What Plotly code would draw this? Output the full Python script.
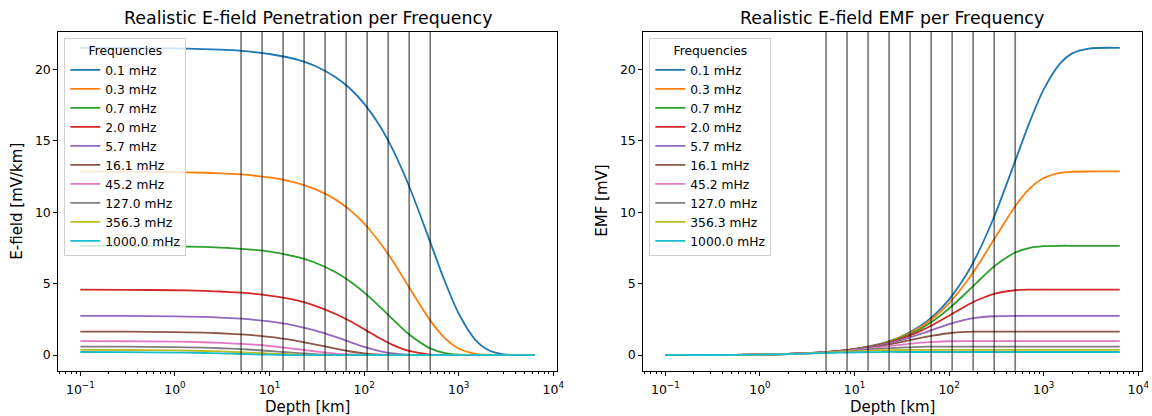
import plotly.graph_objects as go

# ---------------- data ----------------
depth_km = [0.1, 0.3, 1, 2, 3, 5, 7, 10, 15, 20, 30, 50, 70, 100, 150, 200,
            300, 500, 700, 1000, 1500, 2000, 3000, 6371]

freq_labels = ["0.1 mHz", "0.3 mHz", "0.7 mHz", "2.0 mHz", "5.7 mHz",
               "16.1 mHz", "45.2 mHz", "127.0 mHz", "356.3 mHz", "1000.0 mHz"]

# skin depths marked by the vertical lines [km]
skin_depth_km = [5.0, 8.34, 13.9, 23.2, 38.7, 64.6, 107.7, 179.6, 299.6, 500.0]

# E-field penetration [mV/km]
e_0p1 = [21.50, 21.49, 21.46, 21.41, 21.37, 21.29, 21.20, 21.07, 20.86, 20.66, 20.25, 19.45,
         18.69, 17.60, 15.93, 14.41, 11.80, 7.91, 5.30, 2.91, 1.07, 0.39, 0.05, 0.00]
e_0p3 = [12.85, 12.84, 12.81, 12.76, 12.72, 12.64, 12.55, 12.43, 12.22, 12.02, 11.63, 10.88,
         10.18, 9.21, 7.79, 6.60, 4.73, 2.43, 1.24, 0.46, 0.09, 0.02, 0.00, 0.00]
e_0p7 = [7.65, 7.64, 7.61, 7.57, 7.52, 7.44, 7.36, 7.24, 7.04, 6.85, 6.48, 5.80,
         5.19, 4.39, 3.32, 2.52, 1.44, 0.47, 0.16, 0.03, 0.00, 0.00, 0.00, 0.00]
e_2p0 = [4.58, 4.57, 4.54, 4.50, 4.45, 4.37, 4.29, 4.17, 3.99, 3.81, 3.47, 2.88,
         2.40, 1.82, 1.14, 0.72, 0.29, 0.04, 0.00, 0.00, 0.00, 0.00, 0.00, 0.00]
e_5p7 = [2.75, 2.74, 2.71, 2.67, 2.63, 2.55, 2.47, 2.36, 2.18, 2.01, 1.73, 1.27,
         0.93, 0.58, 0.27, 0.12, 0.03, 0.00, 0.00, 0.00, 0.00, 0.00, 0.00, 0.00]
e_16p1 = [1.65, 1.64, 1.61, 1.57, 1.53, 1.45, 1.38, 1.27, 1.12, 0.98, 0.76, 0.45,
          0.27, 0.12, 0.03, 0.01, 0.00, 0.00, 0.00, 0.00, 0.00, 0.00, 0.00, 0.00]
e_45p2 = [0.98, 0.97, 0.94, 0.90, 0.86, 0.79, 0.73, 0.64, 0.51, 0.41, 0.27, 0.11,
          0.05, 0.01, 0.00, 0.00, 0.00, 0.00, 0.00, 0.00, 0.00, 0.00, 0.00, 0.00]
e_127 = [0.60, 0.59, 0.56, 0.52, 0.48, 0.42, 0.36, 0.29, 0.20, 0.14, 0.07, 0.02,
         0.00, 0.00, 0.00, 0.00, 0.00, 0.00, 0.00, 0.00, 0.00, 0.00, 0.00, 0.00]
e_356 = [0.37, 0.36, 0.33, 0.29, 0.26, 0.20, 0.16, 0.11, 0.06, 0.03, 0.01, 0.00,
         0.00, 0.00, 0.00, 0.00, 0.00, 0.00, 0.00, 0.00, 0.00, 0.00, 0.00, 0.00]
e_1000 = [0.22, 0.21, 0.18, 0.15, 0.12, 0.08, 0.05, 0.03, 0.01, 0.00, 0.00, 0.00,
          0.00, 0.00, 0.00, 0.00, 0.00, 0.00, 0.00, 0.00, 0.00, 0.00, 0.00, 0.00]

# EMF [mV]
emf_0p1 = [0.00, 0.01, 0.04, 0.09, 0.13, 0.21, 0.30, 0.43, 0.64, 0.84, 1.25, 2.05,
           2.81, 3.90, 5.57, 7.09, 9.70, 13.59, 16.20, 18.59, 20.43, 21.11, 21.45, 21.50]
emf_0p3 = [0.00, 0.01, 0.04, 0.09, 0.13, 0.21, 0.30, 0.42, 0.63, 0.83, 1.22, 1.97,
           2.67, 3.64, 5.06, 6.25, 8.12, 10.42, 11.61, 12.39, 12.76, 12.83, 12.85, 12.85]
emf_0p7 = [0.00, 0.01, 0.04, 0.08, 0.13, 0.21, 0.29, 0.41, 0.61, 0.80, 1.17, 1.85,
           2.46, 3.26, 4.33, 5.13, 6.21, 7.18, 7.49, 7.62, 7.65, 7.65, 7.65, 7.65]
emf_2p0 = [0.00, 0.01, 0.04, 0.08, 0.13, 0.21, 0.29, 0.41, 0.59, 0.77, 1.11, 1.70,
           2.18, 2.76, 3.44, 3.86, 4.29, 4.54, 4.58, 4.58, 4.58, 4.58, 4.58, 4.58]
emf_5p7 = [0.00, 0.01, 0.04, 0.08, 0.12, 0.20, 0.28, 0.39, 0.57, 0.74, 1.02, 1.48,
           1.82, 2.17, 2.48, 2.63, 2.72, 2.75, 2.75, 2.75, 2.75, 2.75, 2.75, 2.75]
emf_16p1 = [0.00, 0.01, 0.04, 0.08, 0.12, 0.20, 0.27, 0.38, 0.53, 0.67, 0.89, 1.20,
            1.38, 1.53, 1.62, 1.64, 1.65, 1.65, 1.65, 1.65, 1.65, 1.65, 1.65, 1.65]
emf_45p2 = [0.00, 0.01, 0.04, 0.08, 0.12, 0.19, 0.25, 0.34, 0.47, 0.57, 0.71, 0.87,
            0.93, 0.97, 0.98, 0.98, 0.98, 0.98, 0.98, 0.98, 0.98, 0.98, 0.98, 0.98]
emf_127 = [0.00, 0.01, 0.04, 0.08, 0.12, 0.18, 0.24, 0.31, 0.40, 0.46, 0.53, 0.58,
           0.60, 0.60, 0.60, 0.60, 0.60, 0.60, 0.60, 0.60, 0.60, 0.60, 0.60, 0.60]
emf_356 = [0.00, 0.01, 0.04, 0.08, 0.11, 0.17, 0.21, 0.26, 0.31, 0.34, 0.36, 0.37,
           0.37, 0.37, 0.37, 0.37, 0.37, 0.37, 0.37, 0.37, 0.37, 0.37, 0.37, 0.37]
emf_1000 = [0.00, 0.01, 0.04, 0.07, 0.10, 0.14, 0.17, 0.19, 0.21, 0.22, 0.22, 0.22,
            0.22, 0.22, 0.22, 0.22, 0.22, 0.22, 0.22, 0.22, 0.22, 0.22, 0.22, 0.22]

efield_series = [e_0p1, e_0p3, e_0p7, e_2p0, e_5p7, e_16p1, e_45p2, e_127, e_356, e_1000]
emf_series = [emf_0p1, emf_0p3, emf_0p7, emf_2p0, emf_5p7, emf_16p1, emf_45p2,
              emf_127, emf_356, emf_1000]

x_tick_vals = [0.1, 1, 10, 100, 1000, 10000]
x_tick_text = ["10<sup>\u22121</sup>", "10<sup>0</sup>", "10<sup>1</sup>",
               "10<sup>2</sup>", "10<sup>3</sup>", "10<sup>4</sup>"]
y_tick_vals = [0, 5, 10, 15, 20]

# ---------------- styling ----------------
colors = ["#1f77b4", "#ff7f0e", "#2ca02c", "#d62728", "#9467bd",
          "#8c564b", "#e377c2", "#7f7f7f", "#bcbd22", "#17becf"]
FONT = "DejaVu Sans"
W, H = 1152, 416
TICK_SIZE = 12.5
LEGEND_SIZE = 12.3
LABEL_SIZE = 15
TITLE_SIZE = 17.4

fig = go.Figure()
for i, lab in enumerate(freq_labels):
    fig.add_trace(go.Scatter(x=depth_km, y=efield_series[i], mode="lines", name=lab,
                             line=dict(color=colors[i], width=1.8, shape="spline", smoothing=0.8),
                             xaxis="x", yaxis="y", legend="legend"))
for i, lab in enumerate(freq_labels):
    fig.add_trace(go.Scatter(x=depth_km, y=emf_series[i], mode="lines", name=lab,
                             line=dict(color=colors[i], width=1.8, shape="spline", smoothing=0.8),
                             xaxis="x2", yaxis="y2", legend="legend2"))

for d in skin_depth_km:
    for xr, yr in (("x", "y domain"), ("x2", "y2 domain")):
        fig.add_shape(type="line", x0=d, x1=d, y0=0, y1=1, xref=xr, yref=yr,
                      line=dict(color="rgba(0,0,0,0.55)", width=1.6), layer="above")

minor_vals = [m * 10 ** e for e in range(-2, 4) for m in range(2, 10)]

def xaxis_style(domain, anchor):
    return dict(domain=domain, anchor=anchor, type="log", range=[-1.233, 4.036],
                showline=True, linecolor="black", linewidth=1, mirror=True,
                ticks="outside", ticklen=4, tickwidth=1, tickcolor="black",
                tickvals=x_tick_vals, ticktext=x_tick_text, ticklabelstandoff=3,
                tickfont=dict(family=FONT, size=TICK_SIZE, color="black"),
                minor=dict(tickvals=minor_vals, ticks="outside", ticklen=2.4,
                           tickwidth=0.8, tickcolor="black", showgrid=False),
                showgrid=False, zeroline=False, automargin=False)

def yaxis_style(domain, anchor):
    return dict(domain=domain, anchor=anchor, range=[-1.09, 22.63],
                showline=True, linecolor="black", linewidth=1, mirror=True,
                ticks="outside", ticklen=4, tickwidth=1, tickcolor="black",
                tickvals=y_tick_vals,
                tickfont=dict(family=FONT, size=TICK_SIZE, color="black"),
                showgrid=False, zeroline=False, automargin=False)

ydom = [1 - 370.7 / H, 1 - 31.7 / H]
x1dom = [58.3 / W, 556.7 / W]
x2dom = [643.3 / W, 1141.7 / W]

def legend_style(xpx):
    return dict(x=xpx / W, y=1 - 38.3 / H, xanchor="left", yanchor="top",
                bgcolor="rgba(255,255,255,0.8)", bordercolor="#d0d0d0", borderwidth=1,
                font=dict(family=FONT, size=LEGEND_SIZE, color="black"),
                title=dict(text="Frequencies", side="top center",
                           font=dict(family=FONT, size=LEGEND_SIZE, color="black")),
                itemwidth=30, traceorder="normal")

def text_ann(text, xpx, ypx, size, angle=0):
    return dict(text=text, x=xpx / W, y=1 - ypx / H, xref="paper", yref="paper",
                xanchor="center", yanchor="middle", showarrow=False, textangle=angle,
                font=dict(family=FONT, size=size, color="black"))

ycenter = (31.7 + 370.7) / 2
fig.update_layout(
    width=W, height=H,
    margin=dict(l=0, r=0, t=0, b=0, pad=0, autoexpand=False),
    paper_bgcolor="white", plot_bgcolor="white",
    font=dict(family=FONT, color="black"),
    xaxis=xaxis_style(x1dom, "y"),
    yaxis=yaxis_style(ydom, "x"),
    xaxis2=xaxis_style(x2dom, "y2"),
    yaxis2=yaxis_style(ydom, "x2"),
    legend=legend_style(64.3),
    legend2=legend_style(649.3),
    annotations=[
        text_ann("Realistic E-field Penetration per Frequency", sum(x1dom) / 2 * W, 18, TITLE_SIZE),
        text_ann("Realistic E-field EMF per Frequency", sum(x2dom) / 2 * W, 18, TITLE_SIZE),
        text_ann("Depth [km]", sum(x1dom) / 2 * W, 406.5, LABEL_SIZE),
        text_ann("Depth [km]", sum(x2dom) / 2 * W, 406.5, LABEL_SIZE),
        text_ann("E-field [mV/km]", 17.5, ycenter, LABEL_SIZE, -90),
        text_ann("EMF [mV]", 602.5, ycenter, LABEL_SIZE, -90),
    ],
)

fig.write_html(
    "out.html",
    config={"displayModeBar": False},
    post_script="document.body.style.margin='0';document.body.style.padding='0';"
                "document.documentElement.style.overflow='hidden';",
)
